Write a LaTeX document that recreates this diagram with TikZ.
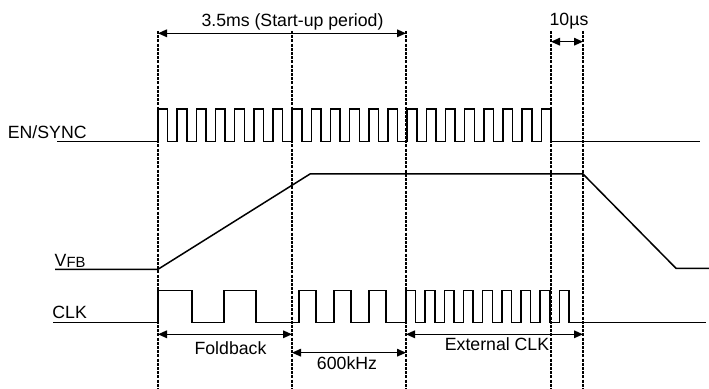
\documentclass[tikz,border=0pt]{standalone}
\usepackage{fontspec}
\setmainfont{Liberation Sans}
\usetikzlibrary{arrows.meta}

\begin{document}
\begin{tikzpicture}[x=0.5pt,y=-0.5pt,
    sig/.style={line width=0.75pt, line join=miter},
    marker/.style={line width=1.1pt, dash pattern=on 1.5pt off 0.6pt},
    span/.style={line width=0.75pt, {Triangle[length=4.5pt,width=3.8pt]}-{Triangle[length=4.5pt,width=3.8pt]}},
    lbl/.style={font=\fontsize{8.85}{10}\selectfont, inner sep=0pt}]

		\useasboundingbox (0,0) rectangle (709,389);
		\def\T{19.17}

		% time markers
		\foreach \x/\name in {158/ta, 292/tb, 406/tc, 551/td, 583/te} {
			\coordinate (\name) at (\x,31);
			\draw[marker] (\name) -- (\x,389);
		}

		% EN/SYNC
		\node[lbl, anchor=base west] (ensync) at (7.5,138.3) {EN/SYNC};
		\draw[sig] (57,141.7)
			\foreach \k in {0,...,20} {
				-- ({158+\T*\k},141.7) -- ({158+\T*\k},109)
				-- ({158+\T*(\k+0.5)},109) -- ({158+\T*(\k+0.5)},141.7)
			} -- (700,141.7);

		% VFB
		\node[lbl, anchor=base west] (vfb) at (54.3,266.7) {V\raisebox{-0.5pt}{\fontsize{7.4}{8}\selectfont FB}};
		\draw[sig] (55,269.3) -- (158,269.3) -- (310,174) -- (583,174) -- (676,268.3) -- (709,268.3);

		% CLK
		\node[lbl, anchor=base west] (clk) at (52,318.3) {CLK};
		\draw[sig] (53,322.7)
			\foreach \r/\f in {158/192, 224/256, 299/316, 334/351, 369/386} {
				-- (\r,322.7) -- (\r,290.5) -- (\f,290.5) -- (\f,322.7)
			}
			\foreach \k in {0,...,8} {
				-- ({406+\T*\k},322.7) -- ({406+\T*\k},290.5)
				-- ({406+\T*(\k+0.5)},290.5) -- ({406+\T*(\k+0.5)},322.7)
			} -- (706,322.7);

		% periods
		\draw[span] (ta |- 0,33.3) -- (tc |- 0,33.3);
		\node[lbl, anchor=base] (startup) at (292.5,26.5) {3.5ms (Start-up period)};
		\draw[span] (td |- 0,41.7) -- (te |- 0,41.7);
		\node[lbl, anchor=base] (tenus) at (569,25.7) {10µs};

		\draw[span] (ta |- 0,334.3) -- (tb |- 0,334.3);
		\node[lbl, anchor=base] (foldback) at (230.5,354.3) {Foldback};
		\draw[span] (tb |- 0,352.7) -- (tc |- 0,352.7);
		\node[lbl, anchor=base] (osc) at (347,370) {600kHz};
		\draw[span] (tc |- 0,334.3) -- (te |- 0,334.3);
		\node[lbl, anchor=base] (extclk) at (497,350.7) {External CLK};
	\end{tikzpicture}
\end{document}
